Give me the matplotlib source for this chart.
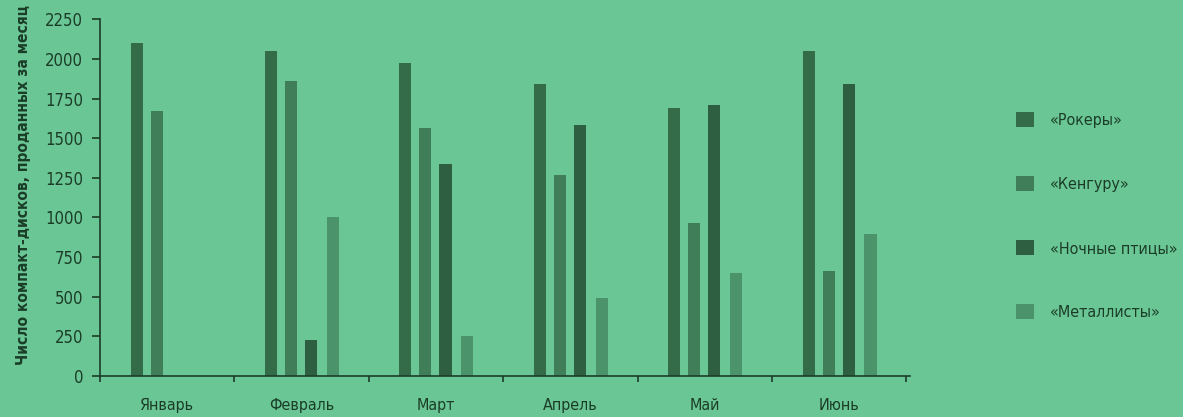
import matplotlib
matplotlib.use('Agg')
import matplotlib.pyplot as plt
from matplotlib.patches import Patch
import numpy as np

months = ['Январь', 'Февраль', 'Март', 'Апрель', 'Май', 'Июнь']
series_names = ['«Рокеры»', '«Кенгуру»', '«Ночные птицы»', '«Металлисты»']
rockers = [2100, 2050, 1975, 1840, 1690, 2050]
kangaroo = [1670, 1860, 1565, 1270, 965, 665]
night_birds = [0, 230, 1335, 1585, 1710, 1840]
metal = [0, 1000, 250, 495, 650, 895]
y_ticks = [0, 250, 500, 750, 1000, 1250, 1500, 1750, 2000, 2250]

BG = '#6ac694'
TXT = '#1b3d28'
colors = ['#346b49', '#3f7e59', '#2e5f40', '#4b936a']

plt.rcParams['font.family'] = ['DejaVu Sans']
plt.rcParams['font.stretch'] = 'condensed'

fig = plt.figure(figsize=(11.83, 4.17), dpi=100, facecolor=BG)
ax = fig.add_axes([0.0845, 0.098, 0.685, 0.856], facecolor=BG)

x = np.arange(len(months))
offsets = [-0.227, -0.078, 0.071, 0.234]
width = 0.09
for vals, off, col, name in zip([rockers, kangaroo, night_birds, metal], offsets, colors, series_names):
    ax.bar(x + off, vals, width=width, color=col, label=name, linewidth=0)

ax.set_xlim(-0.5, 5.53)
ax.set_ylim(0, 2250)
ax.set_yticks(y_ticks)
ax.set_yticklabels([str(v) for v in y_ticks], fontsize=12, color=TXT)
ax.set_xticks(x)
ax.set_xticklabels(months, fontsize=11.5, color=TXT)
ax.tick_params(axis='x', which='major', length=0, pad=16)
ax.set_xticks(np.arange(-0.5, 6.0, 1.0), minor=True)
ax.tick_params(axis='x', which='minor', length=4, width=1.2, color=TXT, direction='out')
ax.tick_params(axis='y', length=6, width=1.2, color=TXT, pad=6)

for side in ['top', 'right']:
    ax.spines[side].set_visible(False)
for side in ['left', 'bottom']:
    ax.spines[side].set_color(TXT)
    ax.spines[side].set_linewidth(1.2)

ax.set_ylabel('Число компакт-дисков, проданных за месяц', fontsize=11.2,
              fontweight='bold', color=TXT)
ax.yaxis.set_label_coords(-0.085, 0.535)

handles = [Patch(facecolor=c, edgecolor='none') for c in colors]
leg = fig.legend(handles, series_names, loc='center left', bbox_to_anchor=(0.847, 0.482),
                 frameon=False, fontsize=11.5, handlelength=1.1, handleheight=1.1,
                 handletextpad=1.0, labelspacing=3.0)
for t in leg.get_texts():
    t.set_color(TXT)

fig.savefig('out.png', dpi=100, facecolor=BG)
